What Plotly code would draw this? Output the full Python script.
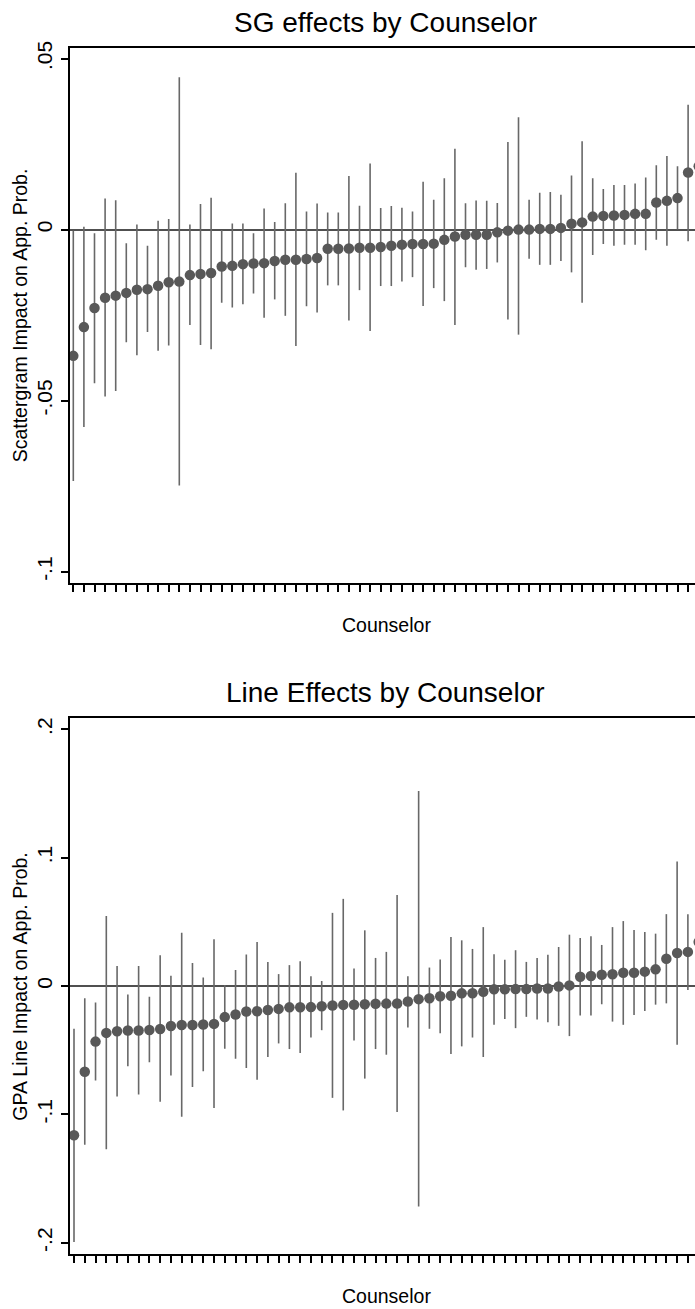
import plotly.graph_objects as go

# Scattergram (SG) effects by counselor: point estimate with lower / upper CI bound
sg_est = [-0.0369, -0.0285, -0.0229, -0.0199, -0.0193, -0.0185, -0.0176, -0.0174, -0.0164, -0.0154,
          -0.0152, -0.0133, -0.0130, -0.0127, -0.0108, -0.0106, -0.0101, -0.0099, -0.0098, -0.0092,
          -0.0088, -0.0088, -0.0086, -0.0083, -0.0056, -0.0056, -0.0055, -0.0053, -0.0053, -0.0051,
          -0.0047, -0.0044, -0.0042, -0.0042, -0.0041, -0.0030, -0.0020, -0.0015, -0.0015, -0.0015,
          -0.0008, -0.0003, 0.0000, 0.0000, 0.0002, 0.0002, 0.0005, 0.0017, 0.0021, 0.0038,
          0.0040, 0.0041, 0.0043, 0.0046, 0.0046, 0.0079, 0.0084, 0.0092, 0.0167, 0.0185]
sg_lo = [-0.0735, -0.0577, -0.0449, -0.0488, -0.0472, -0.0329, -0.0367, -0.0299, -0.0354, -0.0339,
         -0.0748, -0.0279, -0.0337, -0.0350, -0.0214, -0.0228, -0.0218, -0.0187, -0.0258, -0.0204,
         -0.0252, -0.0340, -0.0224, -0.0242, -0.0163, -0.0163, -0.0266, -0.0177, -0.0296, -0.0165,
         -0.0165, -0.0152, -0.0139, -0.0223, -0.0171, -0.0209, -0.0279, -0.0110, -0.0117, -0.0115,
         -0.0096, -0.0263, -0.0307, -0.0085, -0.0103, -0.0103, -0.0092, -0.0125, -0.0214, -0.0074,
         -0.0042, -0.0047, -0.0044, -0.0044, -0.0060, -0.0030, -0.0047, 0.0000, -0.0034, 0.0000]
sg_hi = [-0.0003, 0.0008, -0.0011, 0.0091, 0.0086, -0.0040, 0.0015, -0.0047, 0.0026, 0.0031,
         0.0445, 0.0015, 0.0075, 0.0093, -0.0001, 0.0018, 0.0018, -0.0011, 0.0062, 0.0022,
         0.0077, 0.0166, 0.0053, 0.0076, 0.0050, 0.0050, 0.0157, 0.0070, 0.0193, 0.0063,
         0.0069, 0.0064, 0.0053, 0.0140, 0.0087, 0.0150, 0.0236, 0.0077, 0.0085, 0.0084,
         0.0078, 0.0256, 0.0328, 0.0087, 0.0108, 0.0110, 0.0102, 0.0158, 0.0258, 0.0150,
         0.0119, 0.0130, 0.0130, 0.0135, 0.0152, 0.0188, 0.0215, 0.0185, 0.0365, 0.0370]

# GPA line effects by counselor: point estimate with lower / upper CI bound
line_est = [-0.1163, -0.0668, -0.0433, -0.0365, -0.0352, -0.0347, -0.0347, -0.0342, -0.0334, -0.0311,
            -0.0304, -0.0304, -0.0300, -0.0295, -0.0242, -0.0222, -0.0198, -0.0196, -0.0186, -0.0178,
            -0.0166, -0.0165, -0.0164, -0.0157, -0.0152, -0.0147, -0.0146, -0.0142, -0.0138, -0.0137,
            -0.0136, -0.0121, -0.0102, -0.0095, -0.0080, -0.0075, -0.0057, -0.0056, -0.0045, -0.0026,
            -0.0026, -0.0024, -0.0024, -0.0019, -0.0019, -0.0003, 0.0005, 0.0072, 0.0078, 0.0088,
            0.0092, 0.0103, 0.0104, 0.0112, 0.0130, 0.0212, 0.0258, 0.0266, 0.0343]
line_lo = [-0.1994, -0.1237, -0.0736, -0.1271, -0.0860, -0.0625, -0.0845, -0.0594, -0.0902, -0.0697,
           -0.1018, -0.0786, -0.0664, -0.0951, -0.0488, -0.0566, -0.0638, -0.0731, -0.0553, -0.0447,
           -0.0491, -0.0522, -0.0401, -0.0344, -0.0871, -0.0969, -0.0424, -0.0721, -0.0491, -0.0535,
           -0.0982, -0.0323, -0.1718, -0.0333, -0.0367, -0.0530, -0.0470, -0.0401, -0.0553, -0.0302,
           -0.0256, -0.0328, -0.0240, -0.0261, -0.0282, -0.0310, -0.0390, -0.0230, -0.0230, -0.0142,
           -0.0277, -0.0302, -0.0225, -0.0194, -0.0145, -0.0135, -0.0457, -0.0031, 0.0040]
line_hi = [-0.0333, -0.0096, -0.0129, 0.0545, 0.0157, -0.0065, 0.0157, -0.0083, 0.0240, 0.0080,
           0.0415, 0.0180, 0.0067, 0.0364, 0.0008, 0.0124, 0.0245, 0.0343, 0.0188, 0.0093,
           0.0163, 0.0194, 0.0077, 0.0039, 0.0570, 0.0679, 0.0136, 0.0434, 0.0219, 0.0266,
           0.0710, 0.0077, 0.1519, 0.0144, 0.0206, 0.0382, 0.0356, 0.0289, 0.0459, 0.0248,
           0.0204, 0.0279, 0.0188, 0.0219, 0.0243, 0.0304, 0.0400, 0.0374, 0.0387, 0.0320,
           0.0459, 0.0506, 0.0436, 0.0421, 0.0408, 0.0560, 0.0971, 0.0560, 0.0650]

sg_ticks = [-0.1, -0.05, 0, 0.05]
sg_ticktext = ["-.1", "-.05", "0", ".05"]
line_ticks = [-0.2, -0.1, 0, 0.1, 0.2]
line_ticktext = ["-.2", "-.1", "0", ".1", ".2"]

W, H = 695, 1309
FONT = "Liberation Sans, Arial, sans-serif"
DOT = "rgb(88,88,88)"
SPIKE = "rgb(104,104,104)"


def py(px):
    """Convert a pixel row (from top) to paper fraction."""
    return 1 - px / H


def px_x(px):
    return px / W


def panel(est, lo, hi, xa, ya):
    n = len(est)
    xs = list(range(1, n + 1))
    return go.Scatter(
        x=xs, y=est, mode="markers", xaxis=xa, yaxis=ya,
        marker=dict(size=10.5, color=DOT, line=dict(width=0)),
        error_y=dict(type="data", symmetric=False,
                     array=[h - e for h, e in zip(hi, est)],
                     arrayminus=[e - l for e, l in zip(est, lo)],
                     width=0, thickness=1.6, color=SPIKE),
        showlegend=False, hoverinfo="skip",
    )


fig = go.Figure()
fig.add_trace(panel(sg_est, sg_lo, sg_hi, "x", "y"))
fig.add_trace(panel(line_est, line_lo, line_hi, "x2", "y2"))

xcommon = dict(showgrid=False, zeroline=False, showline=True, linecolor="black", linewidth=2,
               mirror=True, ticks="outside", ticklen=7, tickwidth=1.6, tickcolor="black",
               tickmode="linear", tick0=1, dtick=1, showticklabels=False,
               domain=[px_x(69.7), 1.0])
ycommon = dict(showgrid=False, zeroline=True, zerolinecolor="rgb(80,80,80)", zerolinewidth=1.6,
               showline=True, linecolor="black", linewidth=2, ticks="outside", ticklen=7,
               tickwidth=1.6, tickcolor="black", tickangle=-90,
               tickfont=dict(family=FONT, size=21, color="black"))

fig.update_layout(
    width=W, height=H,
    margin=dict(l=0, r=0, t=0, b=0),
    paper_bgcolor="white", plot_bgcolor="white",
    font=dict(family=FONT, color="black"),
    xaxis=dict(xcommon, anchor="y", range=[0.6604, 59.65]),
    yaxis=dict(ycommon, anchor="x", domain=[py(579), py(41)], range=[-0.10326, 0.05314],
               tickvals=sg_ticks, ticktext=sg_ticktext),
    xaxis2=dict(xcommon, anchor="y2", range=[0.6007, 58.66]),
    yaxis2=dict(ycommon, anchor="x2", domain=[py(1253.7), py(715.3)], range=[-0.20873, 0.20842],
                tickvals=line_ticks, ticktext=line_ticktext),
)

ann = []
for text, y in [("SG effects by Counselor", 15.5), ("Line Effects by Counselor", 689.5)]:
    ann.append(dict(text=text, x=px_x(385), y=py(y), xref="paper", yref="paper",
                    xanchor="center", yanchor="middle", showarrow=False,
                    font=dict(family=FONT, size=28, color="black")))
for y in [621.5, 1296.0]:
    ann.append(dict(text="Counselor", x=px_x(386), y=py(y), xref="paper", yref="paper",
                    xanchor="center", yanchor="middle", showarrow=False,
                    font=dict(family=FONT, size=19.5, color="black")))
for text, y in [("Scattergram Impact on App. Prob.", 310), ("GPA Line Impact on App. Prob.", 985)]:
    ann.append(dict(text=text, x=px_x(20), y=py(y), xref="paper", yref="paper",
                    xanchor="center", yanchor="middle", textangle=-90, showarrow=False,
                    font=dict(family=FONT, size=19.5, color="black")))
fig.update_layout(annotations=ann)

fig.write_html("out.html")
